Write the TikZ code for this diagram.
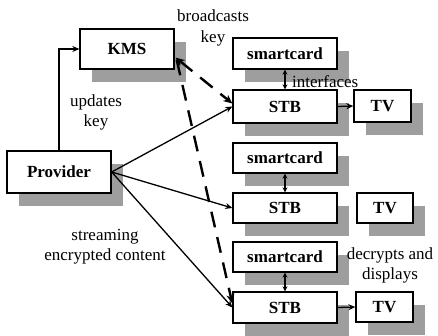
\documentclass[tikz,border=0pt]{standalone}
\usepackage{fontspec}
\setmainfont{Liberation Serif}
\newfontfamily\tnr{Liberation Serif}
\usetikzlibrary{shadows,arrows.meta,calc}
\begin{document}
\begin{tikzpicture}[x=1pt,y=-1pt,
  box/.style={draw, fill=white, line width=1.3pt, inner sep=0pt,
    font=\tnr\fontsize{17}{20}\selectfont\bfseries,
    drop shadow={shadow xshift=12pt, shadow yshift=-13pt, fill=black!38, opacity=1}},
  lbl/.style={align=center, inner sep=0pt, font=\tnr\fontsize{17}{20}\selectfont},
  conn/.style={line width=1.3pt, -{Stealth[length=7pt,width=6pt]}},
  dconn/.style={line width=2.4pt, dash pattern=on 16pt off 10pt, -{Stealth[length=9pt,width=8pt]}},
  dbl/.style={line width=1.1pt, {Stealth[length=5pt,width=5pt]}-{Stealth[length=5pt,width=5pt]}}]
\useasboundingbox (0,0) rectangle (438,336);
\fill[white] (0,0) rectangle (438,336);
% nodes
\node[box, minimum width=94pt, minimum height=40pt] (kms) at (127,49) {KMS};
\node[box, minimum width=104pt, minimum height=42pt] (prov) at (59,172) {Provider};
\node[box, minimum width=104pt, minimum height=31pt] (sc1) at (285,53.5) {smartcard};
\node[box, minimum width=104pt, minimum height=33pt] (stb1) at (285,106.5) {STB};
\node[box, minimum width=57pt, minimum height=32pt] (tv1) at (382.5,106) {TV};
\node[box, minimum width=104pt, minimum height=30pt] (sc2) at (285,158) {smartcard};
\node[box, minimum width=104pt, minimum height=30pt] (stb2) at (285,208) {STB};
\node[box, minimum width=56pt, minimum height=30pt] (tv2) at (385,208) {TV};
\node[box, minimum width=104pt, minimum height=30pt] (sc3) at (285,257) {smartcard};
\node[box, minimum width=104pt, minimum height=31pt] (stb3) at (285,307.5) {STB};
\node[box, minimum width=57pt, minimum height=30pt] (tv3) at (384.5,307) {TV};
% labels
\node[lbl, font=\tnr\fontsize{17}{21}\selectfont] (lb1) at (213,28) {broadcasts\\key};
\node[lbl] (lb2) at (96,112) {updates\\key};
\node[lbl, anchor=west] (lb3) at (292,82) {interfaces};
\node[lbl] (lb4) at (105,247) {streaming\\encrypted content};
\node[lbl] (lb5) at (390,265) {decrypts and\\displays};
% connectors
\coordinate (kc) at ($(kms.south east)+(1,-12)$);
\coordinate (kc2) at ($(kms.south east)+(2,-10)$);
\draw[conn] (prov.north) |- (kms.west);
\draw[conn] (prov.east) -- (stb1.west);
\draw[conn] (prov.east) -- (stb2.west);
\draw[conn] (prov.east) -- (stb3.west);
\draw[dconn, {Stealth[length=9pt,width=8pt]}-{Stealth[length=9pt,width=8pt]}] (kc) -- ($(stb1.west)+(0,-3)$);
\draw[dconn] (kc2) -- ($(stb3.west)+(0,-4)$);
\draw[dbl] (sc1.south) -- (stb1.north);
\draw[dbl] (sc2.south) -- (stb2.north);
\draw[dbl] (sc3.south) -- (stb3.north);
\draw[conn] (stb1.east) -- (tv1.west);
\draw[conn] (stb3.east) -- (tv3.west);
\end{tikzpicture}
\end{document}
